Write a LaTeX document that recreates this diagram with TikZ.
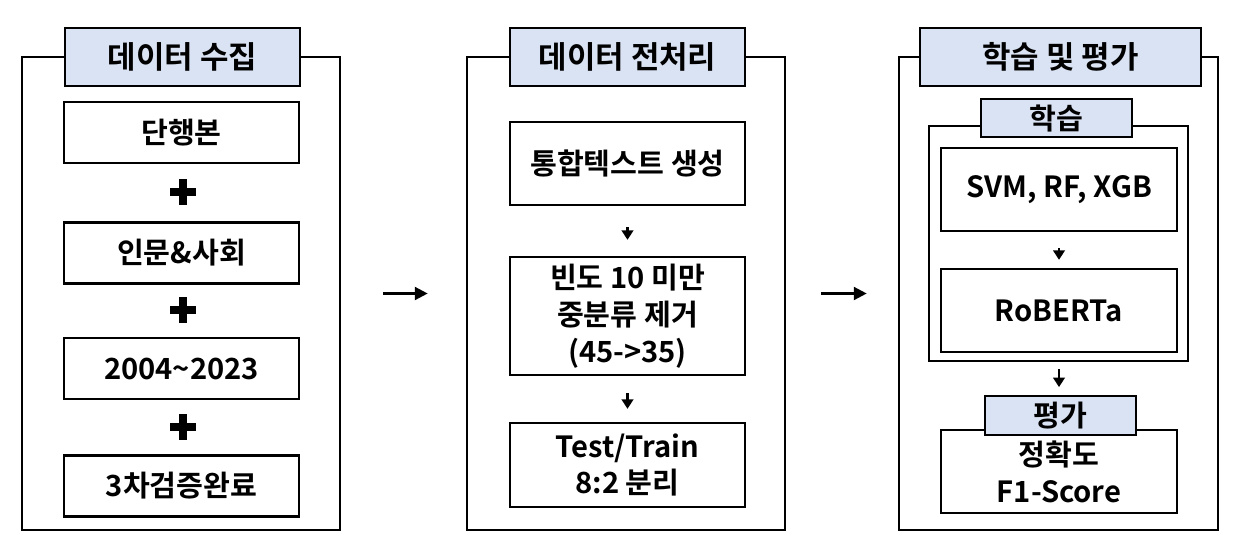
\documentclass[tikz,border=0pt]{standalone}
\usepackage{fontspec}
\setmainfont{Noto Sans CJK KR}[BoldFont={Noto Sans CJK KR Bold}]
\usetikzlibrary{positioning,arrows.meta}
\definecolor{ttlblue}{RGB}{218,227,243}

\begin{document}
\begin{tikzpicture}[
  font=\bfseries\fontsize{16.6}{21}\selectfont,
  frm/.style={rectangle, draw=black, line width=1.3pt, minimum width=6.36cm, minimum height=9.46cm, inner sep=0pt},
  ttl/.style={rectangle, draw=black, line width=1.3pt, fill=ttlblue, minimum width=4.7cm, minimum height=1.16cm,
              inner sep=0pt, font=\bfseries\fontsize{17.6}{20}\selectfont},
  sub/.style={ttl, minimum width=3.02cm, minimum height=0.77cm, font=\bfseries\fontsize{16.6}{18}\selectfont},
  box/.style={rectangle, draw=black, line width=1.3pt, fill=white, minimum width=4.7cm, minimum height=1.22cm,
              align=center, inner sep=2pt},
  plus/.style={minimum size=5.2mm, inner sep=0pt, path picture={
      \fill ([xshift=-2.6mm,yshift=-0.85mm]path picture bounding box.center) rectangle ++(5.2mm,1.7mm);
      \fill ([xshift=-0.85mm,yshift=-2.6mm]path picture bounding box.center) rectangle ++(1.7mm,5.2mm);}},
  stp/.style={-{Triangle[length=1.9mm,width=2.3mm]}, line width=1.5pt},
  big/.style={-{Triangle[length=2.6mm,width=2.5mm]}, line width=2.2pt}
]
\useasboundingbox (0,0) rectangle (24.72,-11.08);

\node[frm] (f1) at (3.62,-5.87) {};
\node[ttl] (t1) at (3.65,-1.14) {데이터 수집};
\node[box] (c1) at (3.63,-2.65) {단행본};
\node[plus] (p1) at (3.66,-3.84) {};
\node[box] (c2) at (3.63,-5.06) {인문\&사회};
\node[plus] (p2) at (3.66,-6.20) {};
\node[box] (c3) at (3.63,-7.37) {2004\textasciitilde2023};
\node[plus] (p3) at (3.66,-8.54) {};
\node[box] (c4) at (3.63,-9.72) {3차검증완료};

\node[frm] (f2) at (12.52,-5.87) {};
\node[ttl] (t2) at (12.55,-1.14) {데이터 전처리};
\node[box, minimum height=1.66cm] (d1) at (12.55,-3.27) {통합텍스트 생성};
\node[box, minimum height=2.36cm] (d2) at (12.55,-6.32) {빈도 10 미만\\중분류 제거\\(45->35)};
\node[box, minimum height=1.68cm] (d3) at (12.55,-9.30) {Test/Train\\8:2 분리};
\draw[stp, shorten <=0.42cm, shorten >=0.32cm] (d1) -- (d2);
\draw[stp, shorten <=0.34cm, shorten >=0.26cm] (d2) -- (d3);

\node[frm, minimum width=6.38cm] (f3) at (21.17,-5.87) {};
\node[ttl, minimum width=5.62cm] (t3) at (21.21,-1.14) {학습 및 평가};
\node[frm, minimum width=5.18cm, minimum height=4.70cm] (g1) at (21.17,-4.87) {};
\node[sub] (s1) at (21.13,-2.36) {학습};
\node[box, minimum width=4.72cm, minimum height=1.66cm] (m1) at (21.18,-3.79) {SVM, RF, XGB};
\node[box, minimum width=4.72cm, minimum height=1.66cm] (m2) at (21.18,-6.21) {RoBERTa};
\node[box, minimum width=4.72cm, minimum height=1.66cm] (m3) at (21.18,-9.43) {정확도\\F1-Score};
\node[sub] (s2) at (21.21,-8.31) {평가};
\draw[stp, shorten <=0.32cm, shorten >=0.16cm] (m1) -- (m2);
\draw[stp, shorten <=0.14cm, shorten >=0.16cm] (g1.south -| m2) -- (s2.north -| m2);

\draw[big, shorten <=0.84cm, shorten >=0.76cm] (f1) -- (f2);
\draw[big, shorten <=0.70cm, shorten >=0.62cm] (f2) -- (f3);
\end{tikzpicture}
\end{document}
